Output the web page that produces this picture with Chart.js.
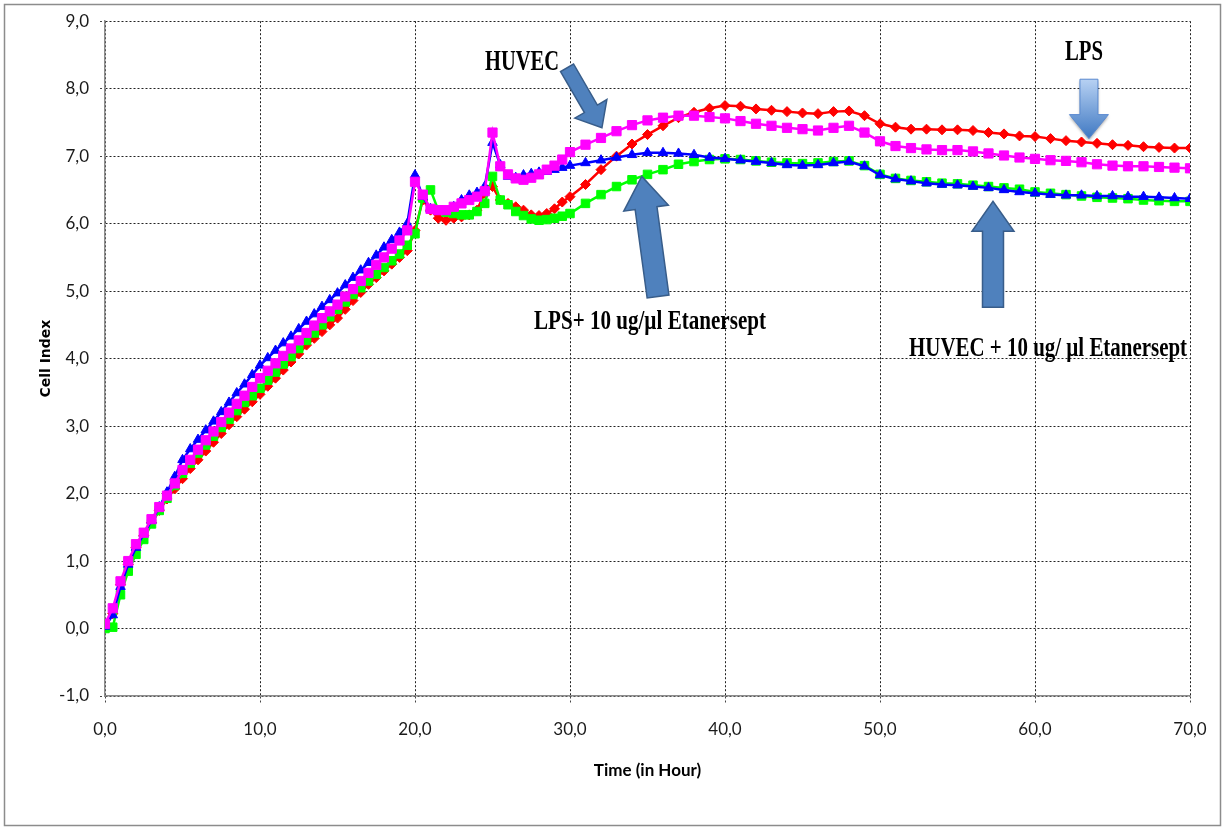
<!DOCTYPE html>
<html>
<head>
<meta charset="utf-8">
<script src="https://cdn.jsdelivr.net/npm/chart.js@4"></script>
<style>
  html, body { margin: 0; padding: 0; background: #fff; }
  canvas { display: block; }
</style>
</head>
<body>
<canvas id="ci-chart" width="1227" height="832"></canvas>
<script>
// Time points (hours)
var hours = [0, 0.5, 1, 1.5, 2, 2.5, 3, 3.5, 4, 4.5,
  5, 5.5, 6, 6.5, 7, 7.5, 8, 8.5, 9, 9.5,
  10, 10.5, 11, 11.5, 12, 12.5, 13, 13.5, 14, 14.5,
  15, 15.5, 16, 16.5, 17, 17.5, 18, 18.5, 19, 19.5,
  20, 20.5, 21, 21.5, 22, 22.5, 23, 23.5, 24, 24.5,
  25, 25.5, 26, 26.5, 27, 27.5, 28, 28.5, 29, 29.5,
  30,
  31, 32, 33, 34, 35, 36, 37, 38, 39, 40,
  41, 42, 43, 44, 45, 46, 47, 48, 49, 50,
  51, 52, 53, 54, 55, 56, 57, 58, 59, 60,
  61, 62, 63, 64, 65, 66, 67, 68, 69, 70];

// HUVEC (magenta)
var huvec = [0.07, 0.3, 0.7, 1.0, 1.25, 1.42, 1.62, 1.8, 1.97, 2.15,
  2.35, 2.5, 2.65, 2.79, 2.92, 3.06, 3.2, 3.33, 3.45, 3.58,
  3.71, 3.82, 3.93, 4.04, 4.15, 4.27, 4.38, 4.49, 4.6, 4.7,
  4.8, 4.92, 5.03, 5.15, 5.27, 5.39, 5.5, 5.63, 5.75, 5.9,
  6.62, 6.43, 6.22, 6.2, 6.2, 6.25, 6.3, 6.35, 6.4, 6.48,
  7.35, 6.85, 6.73, 6.67, 6.65, 6.68, 6.73, 6.8, 6.86, 6.95,
  7.06,
  7.17, 7.27, 7.37, 7.46, 7.53, 7.57, 7.6, 7.6, 7.58, 7.56,
  7.52, 7.48, 7.45, 7.42, 7.4, 7.38, 7.42, 7.45, 7.35, 7.22,
  7.15, 7.12, 7.1, 7.09, 7.09, 7.07, 7.04, 7.01, 6.98, 6.96,
  6.94, 6.93, 6.91, 6.88, 6.86, 6.85, 6.85, 6.84, 6.83, 6.82];

// HUVEC + 10 ug/µl Etanersept (blue)
var huvecEta = [0.03, 0.2, 0.62, 0.95, 1.2, 1.4, 1.6, 1.8, 2.02, 2.25,
  2.5, 2.66, 2.8, 2.94, 3.07, 3.21, 3.35, 3.49, 3.62, 3.76,
  3.9, 4.01, 4.12, 4.23, 4.33, 4.44, 4.55, 4.66, 4.77, 4.87,
  4.97, 5.09, 5.2, 5.31, 5.42, 5.53, 5.65, 5.76, 5.87, 6.0,
  6.72, 6.4, 6.22, 6.18, 6.18, 6.25, 6.35, 6.42, 6.46, 6.55,
  7.2, 6.87, 6.7, 6.68, 6.72, 6.74, 6.76, 6.77, 6.8, 6.83,
  6.86,
  6.9, 6.94, 6.98, 7.02, 7.05, 7.05, 7.04, 7.02, 6.98, 6.96,
  6.94, 6.92, 6.9, 6.87, 6.86, 6.87, 6.9, 6.92, 6.85, 6.72,
  6.66, 6.63, 6.6, 6.58, 6.57, 6.55, 6.53, 6.5, 6.47, 6.45,
  6.43, 6.42, 6.42, 6.41, 6.41, 6.4, 6.4, 6.39, 6.38, 6.37];

// LPS + 10 ug/µl Etanersept (green)
var lpsEta = [0.0, 0.02, 0.5, 0.85, 1.1, 1.32, 1.55, 1.75, 1.93, 2.12,
  2.3, 2.45, 2.6, 2.72, 2.85, 2.98, 3.1, 3.23, 3.35, 3.45,
  3.56, 3.68, 3.8, 3.92, 4.03, 4.15, 4.27, 4.38, 4.5, 4.62,
  4.73, 4.84, 4.95, 5.05, 5.15, 5.25, 5.35, 5.45, 5.55, 5.68,
  5.85, 6.38, 6.5, 6.2, 6.17, 6.15, 6.13, 6.13, 6.18, 6.3,
  6.7, 6.35, 6.28, 6.18, 6.12, 6.07, 6.05, 6.06, 6.08, 6.11,
  6.15,
  6.3, 6.43, 6.55, 6.65, 6.73, 6.8, 6.88, 6.92, 6.95, 6.96,
  6.95, 6.93, 6.91, 6.9, 6.89, 6.9, 6.92, 6.93, 6.86, 6.73,
  6.67, 6.64, 6.62, 6.6, 6.59, 6.57, 6.55, 6.53, 6.51, 6.47,
  6.45, 6.43, 6.41, 6.39, 6.38, 6.37, 6.35, 6.34, 6.33, 6.33];

// LPS (red)
var lps = [0.03, 0.22, 0.65, 0.95, 1.2, 1.38, 1.57, 1.75, 1.92, 2.07,
  2.22, 2.37, 2.5, 2.63, 2.76, 2.89, 3.02, 3.14, 3.25, 3.36,
  3.47, 3.59, 3.71, 3.83, 3.95, 4.07, 4.2, 4.3, 4.4, 4.5,
  4.6, 4.73, 4.86, 4.98, 5.1, 5.2, 5.3, 5.4, 5.5, 5.6,
  5.9, 6.35, 6.2, 6.08, 6.05, 6.08, 6.1, 6.13, 6.2, 6.45,
  6.55, 6.35, 6.3, 6.25, 6.2, 6.13, 6.12, 6.15, 6.22, 6.32,
  6.4,
  6.58, 6.8, 7.0, 7.18, 7.32, 7.45, 7.57, 7.65, 7.71, 7.75,
  7.74, 7.7, 7.68, 7.66, 7.64, 7.63, 7.66, 7.67, 7.6, 7.48,
  7.43, 7.4, 7.4, 7.39, 7.39, 7.38, 7.35, 7.33, 7.3, 7.29,
  7.26, 7.23, 7.21, 7.19, 7.17, 7.16, 7.14, 7.13, 7.12, 7.12];

function pts(vals) {
    return hours.map(function (h, i) { return { x: h, y: vals[i] }; });
}

function commaFmt(v) {
    return v.toFixed(1).replace('.', ',');
}

// Text labels on the chart (positions in axis units)
var notes = [
    { text: 'HUVEC', x: 26.9, y: 8.39, size: 30, w: 74 },
    { text: 'LPS', x: 63.16, y: 8.53, size: 29, w: 38 },
    { text: 'LPS+ 10 ug/\u00b5l Etanersept', x: 35.16, y: 4.54, size: 27, w: 232 },
    { text: 'HUVEC + 10 ug/ \u00b5l Etanersept', x: 60.84, y: 4.14, size: 27, w: 278 }
];

// Block arrows (tail -> tip in axis units, sizes in px)
var arrows = [
    { from: [29.81, 8.31], to: [32.06, 7.42], shaft: 15, head: 37, headLen: 22 },
    { from: [35.68, 4.92], to: [34.63, 6.70], shaft: 22, head: 45, headLen: 32 },
    { from: [57.29, 4.76], to: [57.29, 6.33], shaft: 21, head: 42, headLen: 30 },
    { from: [63.48, 8.14], to: [63.48, 7.26], shaft: 18, head: 39, headLen: 24, light: true }
];

function drawArrow(ctx, a, b, o) {
    var dx = b[0] - a[0], dy = b[1] - a[1];
    var len = Math.sqrt(dx * dx + dy * dy);
    var ux = dx / len, uy = dy / len;
    var nx = -uy, ny = ux;
    var neck = [b[0] - ux * o.headLen, b[1] - uy * o.headLen];
    var s = o.shaft / 2, h = o.head / 2;
    ctx.beginPath();
    ctx.moveTo(a[0] + nx * s, a[1] + ny * s);
    ctx.lineTo(neck[0] + nx * s, neck[1] + ny * s);
    ctx.lineTo(neck[0] + nx * h, neck[1] + ny * h);
    ctx.lineTo(b[0], b[1]);
    ctx.lineTo(neck[0] - nx * h, neck[1] - ny * h);
    ctx.lineTo(neck[0] - nx * s, neck[1] - ny * s);
    ctx.lineTo(a[0] - nx * s, a[1] - ny * s);
    ctx.closePath();
}

var decorPlugin = {
    id: 'decor',
    beforeDraw: function (chart) {
        var ctx = chart.ctx;
        ctx.save();
        ctx.fillStyle = '#fff';
        ctx.fillRect(0, 0, chart.width, chart.height);
        ctx.strokeStyle = '#8c8c8c';
        ctx.lineWidth = 1.5;
        ctx.strokeRect(4.5, 4.5, 1216, 821);
        ctx.restore();
    },
    afterDatasetsDraw: function (chart) {
        var ctx = chart.ctx;
        var xs = chart.scales.x, ys = chart.scales.y;
        ctx.save();
        arrows.forEach(function (ar) {
            var a = [xs.getPixelForValue(ar.from[0]), ys.getPixelForValue(ar.from[1])];
            var b = [xs.getPixelForValue(ar.to[0]), ys.getPixelForValue(ar.to[1])];
            if (ar.light) {
                ctx.save();
                ctx.shadowColor = 'rgba(0,0,0,0.35)';
                ctx.shadowBlur = 3;
                ctx.shadowOffsetY = 2;
                var g = ctx.createLinearGradient(0, a[1], 0, b[1]);
                g.addColorStop(0, '#b7d1f3');
                g.addColorStop(1, '#3f78c2');
                drawArrow(ctx, a, b, ar);
                ctx.fillStyle = g;
                ctx.fill();
                ctx.restore();
                drawArrow(ctx, a, b, ar);
                ctx.strokeStyle = '#5a8ad0';
                ctx.lineWidth = 1;
                ctx.stroke();
            } else {
                drawArrow(ctx, a, b, ar);
                ctx.fillStyle = '#4f81bd';
                ctx.fill();
                ctx.strokeStyle = '#385d8a';
                ctx.lineWidth = 1.5;
                ctx.stroke();
            }
        });
        notes.forEach(function (n) {
            ctx.save();
            ctx.font = 'bold ' + n.size + 'px "Liberation Serif", "Times New Roman", serif';
            var m = ctx.measureText(n.text).width;
            ctx.translate(xs.getPixelForValue(n.x), ys.getPixelForValue(n.y));
            ctx.scale(n.w / m, 1);
            ctx.fillStyle = '#000';
            ctx.textAlign = 'center';
            ctx.textBaseline = 'middle';
            ctx.fillText(n.text, 0, 0);
            ctx.restore();
        });
        ctx.restore();
    }
};

function series(label, vals, color, style, radius) {
    return {
        label: label,
        data: pts(vals),
        borderColor: color,
        backgroundColor: color,
        borderWidth: 2.5,
        pointStyle: style,
        pointRadius: radius,
        pointBackgroundColor: color,
        pointBorderColor: color,
        pointBorderWidth: 1,
        tension: 0
    };
}

var tickFont = { family: 'Lato, "Open Sans", sans-serif', size: 17 };

var ctx = document.getElementById('ci-chart').getContext('2d');
var chart = new Chart(ctx, {
    type: 'line',
    data: {
        datasets: [
            series('HUVEC', huvec, '#ff00ff', 'rect', 6.5),
            series('HUVEC + 10 ug/ \u00b5l Etanersept', huvecEta, '#0000ff', 'triangle', 5.5),
            series('LPS+ 10 ug/\u00b5l Etanersept', lpsEta, '#00ff00', 'rect', 6),
            series('LPS', lps, '#ff0000', 'rectRot', 5)
        ]
    },
    options: {
        responsive: false,
        animation: false,
        events: [],
        layout: { padding: { left: 0, top: 19, right: 37, bottom: 0 } },
        plugins: {
            legend: { display: false },
            tooltip: { enabled: false }
        },
        scales: {
            x: {
                type: 'linear',
                min: 0,
                max: 70,
                afterFit: function (s) { s.height = 136; },
                ticks: {
                    stepSize: 10,
                    color: '#1a1a1a',
                    font: tickFont,
                    padding: 15,
                    maxRotation: 0,
                    callback: function (v) { return commaFmt(v); }
                },
                grid: { color: '#222', lineWidth: 1, tickLength: 8, tickColor: '#444', tickBorderDash: [2, 2] },
                border: { display: true, color: '#8c8c8c', width: 1.5, dash: [2, 2] },
                title: {
                    display: true,
                    text: 'Time (in Hour)',
                    color: '#000',
                    font: { family: 'Lato, "Open Sans", sans-serif', size: 17, weight: 'bold' },
                    padding: { top: 0, bottom: 51 }
                }
            },
            y: {
                min: -1,
                max: 9,
                afterFit: function (s) { s.width = 105; },
                ticks: {
                    stepSize: 1,
                    color: '#1a1a1a',
                    font: tickFont,
                    padding: 11,
                    callback: function (v) { return commaFmt(v); }
                },
                grid: { color: '#222', lineWidth: 1, tickLength: 5, tickColor: '#444', tickBorderDash: [2, 2] },
                border: { display: true, color: '#8c8c8c', width: 1.5, dash: [2, 2] },
                title: {
                    display: true,
                    text: 'Cell Index',
                    color: '#000',
                    font: { family: '"DejaVu Sans", Verdana, sans-serif', size: 14, weight: 'bold' },
                    padding: { top: 38, bottom: 0 }
                }
            }
        }
    },
    plugins: [decorPlugin]
});
</script>
</body>
</html>
